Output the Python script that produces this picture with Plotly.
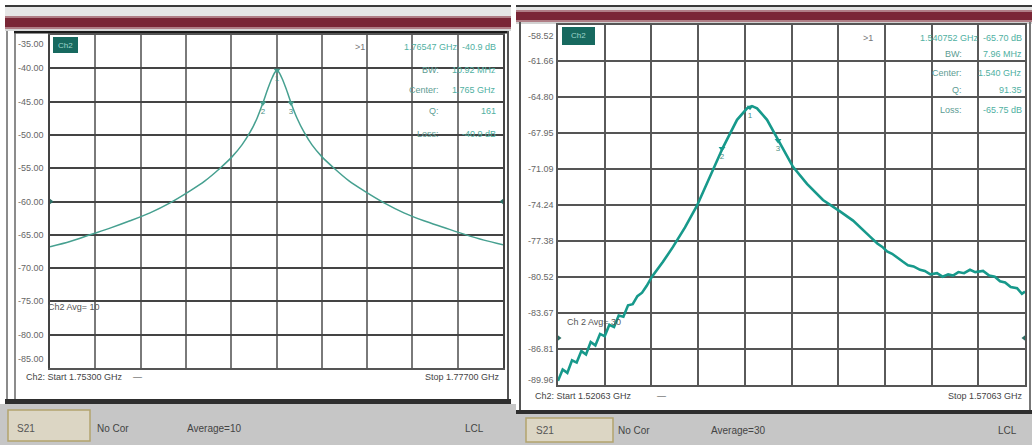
import plotly.graph_objects as go

W, H = 1032, 445

# ---------------- data ----------------
# Left trace: narrow resonance (S21, dB vs GHz)
left_freq_ghz = [1.75300, 1.75406, 1.75512, 1.75618, 1.75724, 1.75830, 1.75936, 1.76042,
                 1.76121, 1.76201, 1.76264, 1.76317, 1.76360, 1.76397, 1.76428, 1.76455,
                 1.76476, 1.76492, 1.76503, 1.76513, 1.76529, 1.76550, 1.76577, 1.76609,
                 1.76646, 1.76688, 1.76741, 1.76805, 1.76884, 1.76964, 1.77070, 1.77175,
                 1.77281, 1.77387, 1.77493, 1.77599, 1.77700]
left_s21_db = [-66.8, -66.0, -65.0, -64.0, -62.9, -61.7, -60.2, -58.4,
               -56.9, -55.0, -53.3, -51.5, -49.6, -47.5, -45.2, -43.0,
               -41.5, -40.6, -40.3, -40.6, -41.5, -43.0, -45.2, -47.5,
               -49.6, -51.5, -53.3, -55.0, -56.9, -58.4, -60.2, -61.7,
               -62.9, -63.9, -64.9, -65.8, -66.5]

# Right trace: broader, noisier resonance
right_freq_ghz = [1.52063, 1.52113, 1.52163, 1.52213, 1.52263, 1.52313, 1.52363, 1.52413,
                  1.52463, 1.52513, 1.52563, 1.52613, 1.52663, 1.52713, 1.52763, 1.52813,
                  1.52863, 1.52913, 1.52963, 1.53013, 1.53069, 1.53187, 1.53294, 1.53423,
                  1.53551, 1.53690, 1.53830, 1.53980, 1.54087, 1.54140, 1.54194, 1.54301,
                  1.54440, 1.54579, 1.54729, 1.54900, 1.55082, 1.55222, 1.55404, 1.55482,
                  1.55536, 1.55586, 1.55640, 1.55700, 1.55757, 1.55810, 1.55870, 1.55939,
                  1.55990, 1.56050, 1.56121, 1.56180, 1.56240, 1.56292, 1.56350, 1.56410,
                  1.56474, 1.56530, 1.56614, 1.56680, 1.56740, 1.56796, 1.56850, 1.56910,
                  1.56978, 1.57030, 1.57063]
right_s21_db = [-89.6, -88.6, -88.9, -87.8, -88.0, -87.0, -87.3, -86.2,
                -86.5, -85.5, -85.7, -84.7, -84.9, -83.9, -84.0, -83.0,
                -82.9, -82.2, -81.9, -81.3, -80.5, -79.2, -77.9, -76.2,
                -74.3, -71.8, -69.2, -66.8, -65.8, -65.6, -65.8, -66.8,
                -68.8, -70.9, -72.4, -73.8, -74.8, -75.6, -77.0, -77.6,
                -77.9, -78.3, -78.5, -78.9, -79.2, -79.5, -79.6, -79.9,
                -80.0, -80.3, -80.2, -80.5, -80.3, -80.4, -80.1, -80.2,
                -79.9, -80.1, -80.0, -80.4, -80.5, -80.9, -81.0, -81.4,
                -81.5, -82.0, -81.8]

left_x_range = [1.75300, 1.77700]
right_x_range = [1.52063, 1.57063]

left_y_ticks = [-35, -40, -45, -50, -55, -60, -65, -70, -75, -80, -85]
left_y_labels = ["-35.00", "-40.00", "-45.00", "-50.00", "-55.00", "-60.00",
                 "-65.00", "-70.00", "-75.00", "-80.00", "-85.00"]
right_y_ticks = [-58.52, -61.66, -64.80, -67.95, -71.09, -74.24, -77.38,
                 -80.52, -83.67, -86.81, -89.96]
right_y_labels = ["-58.52", "-61.66", "-64.80", "-67.95", "-71.09", "-74.24",
                  "-77.38", "-80.52", "-83.67", "-86.81", "-89.96"]

left_marker_freq = [1.76503, 1.76428, 1.76577]
left_marker_db = [-40.3, -45.2, -45.2]
right_marker_freq = [1.54119, 1.53819, 1.54419]
right_marker_db = [-65.7, -69.3, -68.6]
marker_labels = ["1", "2", "3"]

left_ref_db = -60.0
right_ref_db = -85.85

left_table_keys = [">1", "BW:", "Center:", "Q:", "Loss:"]
left_table_vals = ["1.76547 GHz  -40.9 dB", "10.92 MHz", "1.765 GHz", "161", "-40.9 dB"]
right_table_keys = [">1", "BW:", "Center:", "Q:", "Loss:"]
right_table_vals = ["1.540752 GHz  -65.70 dB", "7.96 MHz", "1.540 GHz", "91.35", "-65.75 dB"]

# ---------------- figure ----------------
TEAL_L = "#46a090"
TEAL_R = "#17998b"
FONT = "Liberation Sans Narrow, Liberation Sans, Arial"

fig = go.Figure()
fig.add_trace(go.Scatter(x=left_freq_ghz, y=left_s21_db, mode="lines",
                         line=dict(color=TEAL_L, width=1.5, shape="spline", smoothing=0.8),
                         xaxis="x", yaxis="y", showlegend=False, hoverinfo="skip"))
fig.add_trace(go.Scatter(x=right_freq_ghz, y=right_s21_db, mode="lines",
                         line=dict(color=TEAL_R, width=2.6),
                         xaxis="x2", yaxis="y2", showlegend=False, hoverinfo="skip"))

# markers
fig.add_trace(go.Scatter(x=left_marker_freq, y=left_marker_db, mode="markers+text",
                         marker=dict(symbol="triangle-down", size=6, color=TEAL_L),
                         text=marker_labels, textposition="bottom center",
                         textfont=dict(size=8, color="#4a8f84", family=FONT),
                         xaxis="x", yaxis="y", showlegend=False, hoverinfo="skip"))
fig.add_trace(go.Scatter(x=right_marker_freq, y=right_marker_db, mode="markers+text",
                         marker=dict(symbol="triangle-down", size=6, color=TEAL_R),
                         text=marker_labels, textposition="bottom center",
                         textfont=dict(size=8, color="#4a8f84", family=FONT),
                         xaxis="x2", yaxis="y2", showlegend=False, hoverinfo="skip"))
# reference level indicators
fig.add_trace(go.Scatter(x=left_x_range, y=[left_ref_db, left_ref_db], mode="markers",
                         marker=dict(symbol=["triangle-right", "triangle-left"], size=7, color="#2e6f66"),
                         cliponaxis=False, xaxis="x", yaxis="y", showlegend=False, hoverinfo="skip"))
fig.add_trace(go.Scatter(x=right_x_range, y=[right_ref_db, right_ref_db], mode="markers",
                         marker=dict(symbol=["triangle-right", "triangle-left"], size=7, color="#2e6f66"),
                         cliponaxis=False, xaxis="x2", yaxis="y2", showlegend=False, hoverinfo="skip"))


def xd(px):
    return px / W


def yd(py):
    return 1 - py / H


axis_common = dict(showticklabels=False, ticks="", zeroline=False, showline=True, mirror=True,
                   fixedrange=True)

fig.update_layout(
    width=W, height=H,
    margin=dict(l=0, r=0, t=0, b=0),
    paper_bgcolor="white",
    plot_bgcolor="rgba(0,0,0,0)",
    font=dict(family=FONT, size=9, color="#555"),
    xaxis=dict(domain=[xd(50), xd(503)], range=left_x_range, tick0=left_x_range[0],
               dtick=(left_x_range[1] - left_x_range[0]) / 10, showgrid=True,
               gridcolor="#7a7a7a", gridwidth=1.6, linecolor="#555", linewidth=1.6,
               anchor="y", **axis_common),
    yaxis=dict(domain=[yd(368), yd(35)], range=[-85, -35], tickvals=left_y_ticks,
               showgrid=True, gridcolor="#444", gridwidth=2.4, linecolor="#444", linewidth=2,
               anchor="x", **axis_common),
    xaxis2=dict(domain=[xd(558), xd(1025)], range=right_x_range, tick0=right_x_range[0],
                dtick=(right_x_range[1] - right_x_range[0]) / 10, showgrid=True,
                gridcolor="#5a5a5a", gridwidth=2, linecolor="#555", linewidth=2,
                anchor="y2", **axis_common),
    yaxis2=dict(domain=[yd(385), yd(25)], range=[right_y_ticks[-1], right_y_ticks[0]],
                tickvals=right_y_ticks, showgrid=True, gridcolor="#555", gridwidth=2.2,
                linecolor="#555", linewidth=2, anchor="x2", **axis_common),
)

shapes = []


def rect(x0, y0, x1, y1, fill, line_color=None, lw=0, layer="below"):
    shapes.append(dict(type="rect", xref="paper", yref="paper",
                       x0=xd(x0), x1=xd(x1), y0=yd(y1), y1=yd(y0),
                       fillcolor=fill, layer=layer,
                       line=dict(color=line_color or fill, width=lw)))


def vline(x, y0, y1, color, width):
    shapes.append(dict(type="line", xref="paper", yref="paper",
                       x0=xd(x), x1=xd(x), y0=yd(y1), y1=yd(y0),
                       line=dict(color=color, width=width), layer="below"))


# --- left window chrome ---
rect(5, 5, 511, 7, "#3a3a3a")
rect(5, 7, 511, 16, "#e6e6e6")
rect(5, 16, 511, 29, "#b07e86")
rect(5, 18, 511, 27, "#7a2636")
rect(5, 29, 511, 31, "#d8d8d8")
rect(14, 31, 509, 33.5, "#1c1c1c")
vline(7, 31, 400, "#8c8c8c", 2)
vline(15, 33, 399, "#666", 1.5)
vline(508, 31, 400, "#555", 2)
rect(5, 399, 511, 404, "#2e2e2e")
rect(0, 404, 516, 445, "#c6c6c6")
rect(8, 410, 90, 441, "#dcd6c4", "#b3a46e", 1.5)
rect(53, 37, 78, 53, "#17695f", layer="above")

# --- right window chrome ---
rect(516, 5, 1032, 7, "#3a3a3a")
rect(516, 7, 1032, 10, "#e2e2e2")
rect(516, 10, 1032, 22, "#b07e86")
rect(516, 12, 1032, 20, "#7a2636")
rect(516, 22, 1032, 24, "#d2d2d2")
vline(520, 22, 412, "#555", 2)
vline(1030, 22, 412, "#777", 2)
rect(516, 410, 1032, 414, "#2e2e2e")
rect(516, 414, 1032, 445, "#c6c6c6")
rect(526, 418, 613, 442, "#dcd6c4", "#b3a46e", 1.5)
rect(562, 27, 595, 45, "#17695f", layer="above")

fig.update_layout(shapes=shapes)

ann = []


def txt(s, x, y, size=9, color="#555", xanchor="left"):
    ann.append(dict(text=s, x=xd(x), y=yd(y), xref="paper", yref="paper",
                    xanchor=xanchor, yanchor="middle", showarrow=False,
                    font=dict(size=size, color=color, family=FONT)))


# y tick labels (placed via the axes)
for i, (v, lab) in enumerate(zip(left_y_ticks, left_y_labels)):
    shift = -9 if i == 0 else (9 if i == len(left_y_ticks) - 1 else 0)
    ann.append(dict(text=lab, x=0, xref="x domain", y=v, yref="y", xanchor="right",
                    yanchor="middle", xshift=-4, yshift=shift, showarrow=False,
                    font=dict(size=9, color="#666", family=FONT)))
for i, (v, lab) in enumerate(zip(right_y_ticks, right_y_labels)):
    shift = -11 if i == 0 else (5 if i == len(right_y_ticks) - 1 else 0)
    ann.append(dict(text=lab, x=0, xref="x2 domain", y=v, yref="y2", xanchor="right",
                    yanchor="middle", xshift=-2, yshift=shift, showarrow=False,
                    font=dict(size=9, color="#666", family=FONT)))

# trace tags
txt("Ch2", 65.5, 45, 8, "#9fd6cc", "center")
txt("Ch2", 578.5, 36, 8, "#9fd6cc", "center")

# marker tables
KEYC = "#5d9c93"
VALC = "#4fb0a2"
left_rows_y = [47, 70, 90, 111, 134]
for ky, k, v in zip(left_rows_y, left_table_keys, left_table_vals):
    if k == ">1":
        txt(k, 360, ky, 9, "#777", "center")
    else:
        txt(k, 441, ky, 9, KEYC, "right")
    txt(v, 498, ky, 9, VALC, "right")
right_rows_y = [38, 54, 73, 90, 110]
for ky, k, v in zip(right_rows_y, right_table_keys, right_table_vals):
    if k == ">1":
        txt(k, 868, ky, 9, "#777", "center")
    else:
        txt(k, 964, ky, 9, KEYC, "right")
    txt(v, 1024, ky, 9, VALC, "right")

# averaging labels
txt("Ch2 Avg= 10", 46, 307, 9, "#555")
txt("Ch 2 Avg= 30", 565, 322, 9, "#555")

# start / stop
txt("Ch2: Start 1.75300 GHz", 24, 377, 9, "#444")
txt("—", 131, 377, 9, "#444")
txt("Stop 1.77700 GHz", 502, 377, 9, "#444", "right")
txt("Ch2: Start 1.52063 GHz", 533, 396, 9, "#444")
txt("—", 655, 396, 9, "#444")
txt("Stop 1.57063 GHz", 1025, 396, 9, "#444", "right")

# status bars
txt("S21", 15, 428, 10, "#555")
txt("No Cor", 95, 428, 10, "#444")
txt("Average=10", 185, 428, 10, "#444")
txt("LCL", 463, 428, 10, "#444")
txt("S21", 534, 430, 10, "#555")
txt("No Cor", 616, 430, 10, "#444")
txt("Average=30", 709, 430, 10, "#444")
txt("LCL", 996, 430, 10, "#444")

fig.update_layout(annotations=ann)

fig.write_html("out.html")
